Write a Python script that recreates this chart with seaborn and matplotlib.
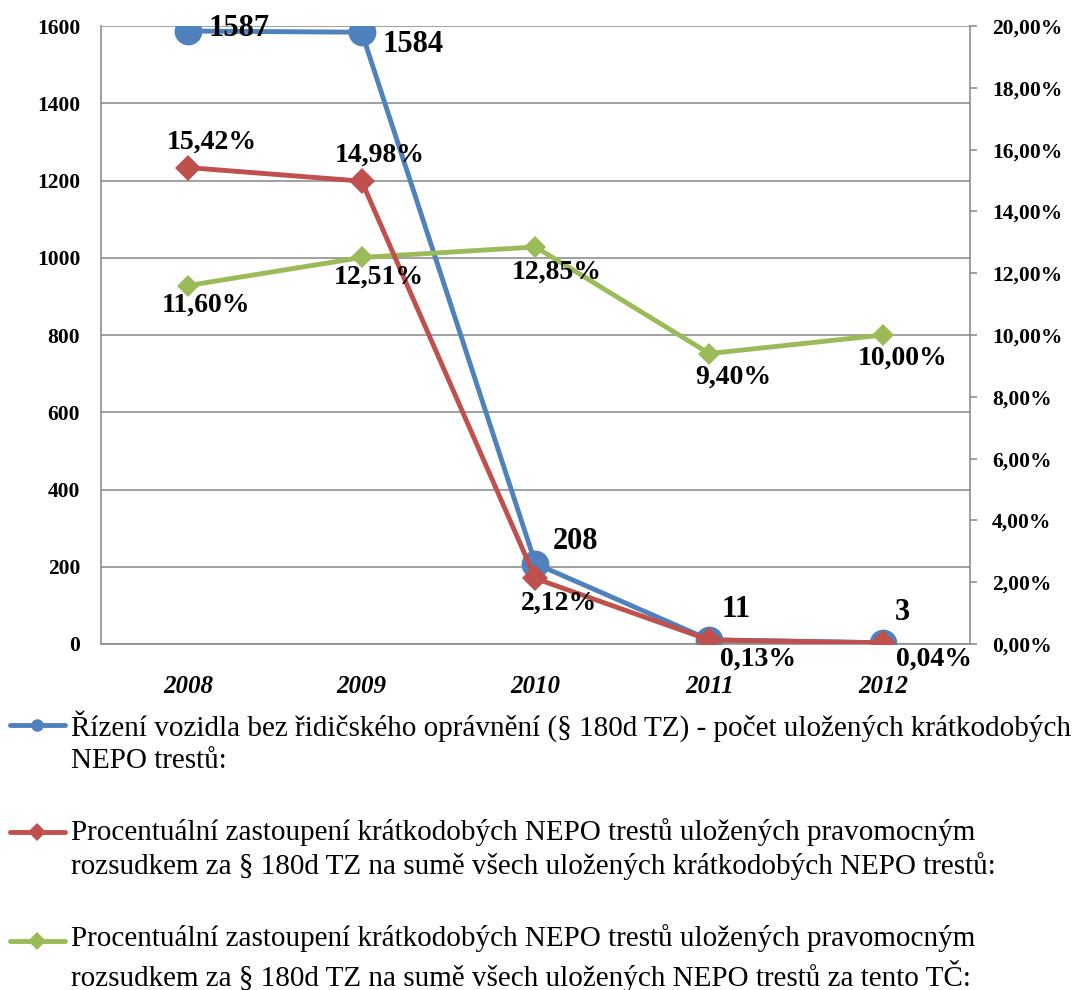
import numpy as np
import pandas as pd
import seaborn as sns
import matplotlib.pyplot as plt
from matplotlib.ticker import FuncFormatter, MultipleLocator

# data
years = ['2008', '2009', '2010', '2011', '2012']
pocet = [1587, 1584, 208, 11, 3]
podil_pravomocne = [15.42, 14.98, 2.12, 0.13, 0.04]
podil_tc = [11.60, 12.51, 12.85, 9.40, 10.00]

labels = [
    'Řízení vozidla bez řidičského oprávnění (§ 180d TZ) - počet uložených krátkodobých\nNEPO trestů:',
    'Procentuální zastoupení krátkodobých NEPO trestů uložených pravomocným\nrozsudkem za § 180d TZ na sumě všech uložených krátkodobých NEPO trestů:',
    'Procentuální zastoupení krátkodobých NEPO trestů uložených pravomocným\nrozsudkem za § 180d TZ na sumě všech uložených NEPO trestů za tento TČ:',
]

BLUE, RED, GREEN = '#4F81BD', '#C0504D', '#9BBB59'
GRID = '#868686'

# label offsets (points) for each data label
off_blue = [(37, 2), (37, -9), (29, 16), (19, 22), (14, 22)]
off_red = [(17, 18), (13, 19), (17, -18), (35, -14), (37, -12)]
off_green = [(13, -14), (12, -14), (15, -18), (17, -17), (14, -17)]

sns.set_theme(style='white')
plt.rcParams['font.family'] = ['Liberation Serif', 'DejaVu Serif']
for k in ('text.color', 'axes.labelcolor', 'xtick.color', 'ytick.color'):
    plt.rcParams[k] = 'black'

df = pd.DataFrame({'rok': years, 'pocet': pocet,
                   'p1': podil_pravomocne, 'p2': podil_tc})

fig = plt.figure(figsize=(10.81, 9.9), dpi=100)
ax = fig.add_axes([0.0934, 0.3495, 0.8039, 0.6242])
ax2 = ax.twinx()

sns.lineplot(data=df, x='rok', y='pocet', ax=ax, color=BLUE, linewidth=3.5,
             marker='o', markersize=20, markeredgewidth=0, label=labels[0],
             legend=False, sort=False)
sns.lineplot(data=df, x='rok', y='p2', ax=ax2, color=GREEN, linewidth=3.5,
             marker='D', markersize=11, markeredgewidth=0, label=labels[2],
             legend=False, sort=False)
sns.lineplot(data=df, x='rok', y='p1', ax=ax2, color=RED, linewidth=3.5,
             marker='D', markersize=13, markeredgewidth=0, label=labels[1],
             legend=False, sort=False)

ax.set_xlim(-0.5, 4.5)
ax.set_ylim(0, 1600)
ax2.set_ylim(0, 20)
ax.yaxis.set_major_locator(MultipleLocator(200))
ax2.yaxis.set_major_locator(MultipleLocator(2))
ax2.yaxis.set_major_formatter(FuncFormatter(lambda v, p: f'{v:.2f}%'.replace('.', ',')))

ax.grid(axis='y', color=GRID, linewidth=1.1)
ax.set_axisbelow(True)
for a in (ax, ax2):
    a.set_xlabel('')
    a.set_ylabel('')
    a.spines['top'].set_visible(False)
    for s in ('left', 'right', 'bottom'):
        a.spines[s].set_color(GRID)
        a.spines[s].set_linewidth(1.1)
ax.spines['right'].set_visible(False)
ax2.spines['left'].set_visible(False)
ax2.spines['bottom'].set_visible(False)

ax.tick_params(axis='y', length=0, pad=15, labelsize=15.5, labelcolor='black')
ax.tick_params(axis='x', length=0, pad=22, labelsize=18, labelcolor='black')
ax2.tick_params(axis='y', length=5, width=1.1, color=GRID, pad=11,
                labelsize=15.5, labelcolor='black')
for t in ax.get_yticklabels() + ax2.get_yticklabels():
    t.set_fontweight('bold')
for t in ax.get_xticklabels():
    t.set_fontweight('bold')
    t.set_fontstyle('italic')

for i, v in enumerate(pocet):
    ax.annotate(str(v), (i, v), xytext=off_blue[i], textcoords='offset points',
                ha='center', va='center', fontsize=22, fontweight='bold')
for i, v in enumerate(podil_pravomocne):
    ax2.annotate(f'{v:.2f}%'.replace('.', ','), (i, v), xytext=off_red[i],
                 textcoords='offset points', ha='center', va='center',
                 fontsize=20, fontweight='bold')
for i, v in enumerate(podil_tc):
    ax2.annotate(f'{v:.2f}%'.replace('.', ','), (i, v), xytext=off_green[i],
                 textcoords='offset points', ha='center', va='center',
                 fontsize=20, fontweight='bold')

# legend below the plot
h1, l1 = ax.get_legend_handles_labels()
h2, l2 = ax2.get_legend_handles_labels()
handles = [h1[0], h2[1], h2[0]]
fs = 21
ls = 1.31
leg = fig.legend(handles, labels, loc='upper left', bbox_to_anchor=(0.009, 0.283),
                 frameon=False, fontsize=fs, handlelength=1.9, handletextpad=0.2,
                 labelspacing=1.5, borderpad=0, borderaxespad=0)
for t in leg.get_texts():
    t.set_linespacing(ls)
for h in leg.legend_handles:
    h.set_ydata(np.asarray(h.get_ydata()) + 0.5 * 0.887 * ls * fs)
    h.set_markersize(9)

fig.savefig('out.png', dpi=100)
